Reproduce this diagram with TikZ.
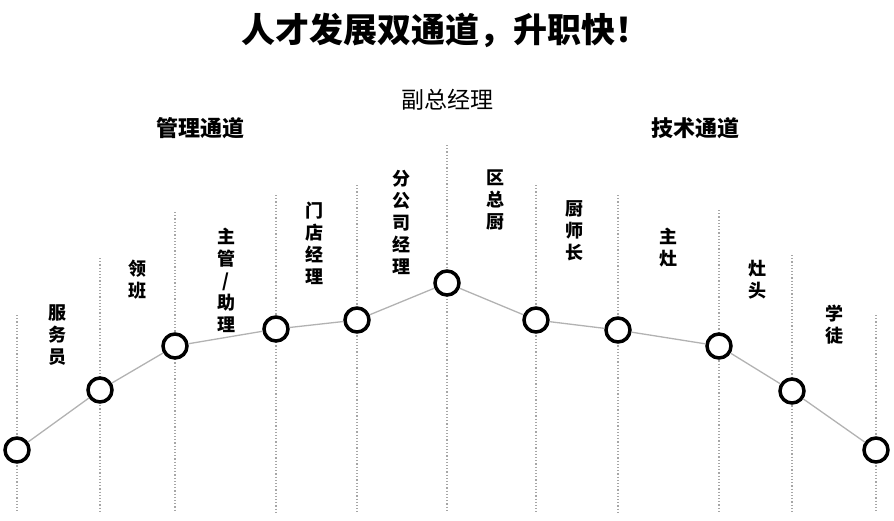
\documentclass[tikz,border=0pt]{standalone}
\usepackage{fontspec}
\setmainfont{Noto Sans CJK SC}
\usetikzlibrary{positioning}
\tikzset{
    x=1pt, y=-1pt,
    step node/.style={circle, draw=black, line width=3.5pt, fill=white, minimum size=24pt, inner sep=0pt},
    guide/.style={draw=gray!70, line width=1.2pt, dotted},
    link/.style={draw=gray!60, line width=1.3pt},
    post/.style={font=\fontsize{18}{22}\selectfont\bfseries, align=center, anchor=north, inner sep=0pt},
    head/.style={font=\fontsize{22}{26}\selectfont\bfseries},
}

\begin{document}
\begin{tikzpicture}
    \useasboundingbox (0,0) rectangle (894,520);
    \node[font=\fontsize{34}{38}\selectfont\bfseries] (title) at (445,30) {人才发展双通道，升职快！};
    \node[head] (mgmt) at (200,128) {管理通道};
    \node[head] (tech) at (695,128) {技术通道};
    \node[font=\fontsize{23}{26}\selectfont] (vp) at (447,100) {副总经理};

    % x / y of circle / top of guide / label x / label y / label
    \foreach \i/\x/\y/\t/\lx/\ly/\txt in {
        1/17/450/315/57/305/{服\\务\\员},
        2/100/390/258/137/260/{领\\班},
        3/175/346/212/226/228/{主\\管\\/\\助\\理},
        4/276/329/195/314/202/{门\\店\\经\\理},
        5/357/320/185/401/170/{分\\公\\司\\经\\理},
        6/447/283/145/495/170/{区\\总\\厨},
        7/536/320/185/574/200/{厨\\师\\长},
        8/618/330/195/668/228/{主\\灶},
        9/719/346/210/757/260/{灶\\头},
        10/792/391/255/834/305/{学\\徒},
        11/876/450/315/876/0/{}}
    {
        \coordinate (g\i) at (\x,\t);
        \coordinate (b\i) at (\x,512);
        \draw[guide] (g\i) -- (b\i);
        \node[step node] (p\i) at (\x,\y) {};
        \ifnum\i<11
            \node[post] (l\i) at (\lx,\ly) {\txt};
        \fi
    }

    \foreach \a/\b in {1/2,2/3,3/4,4/5,5/6,6/7,7/8,8/9,9/10,10/11}
        \path[link] (p\a) -- (p\b);
\end{tikzpicture}
\end{document}
